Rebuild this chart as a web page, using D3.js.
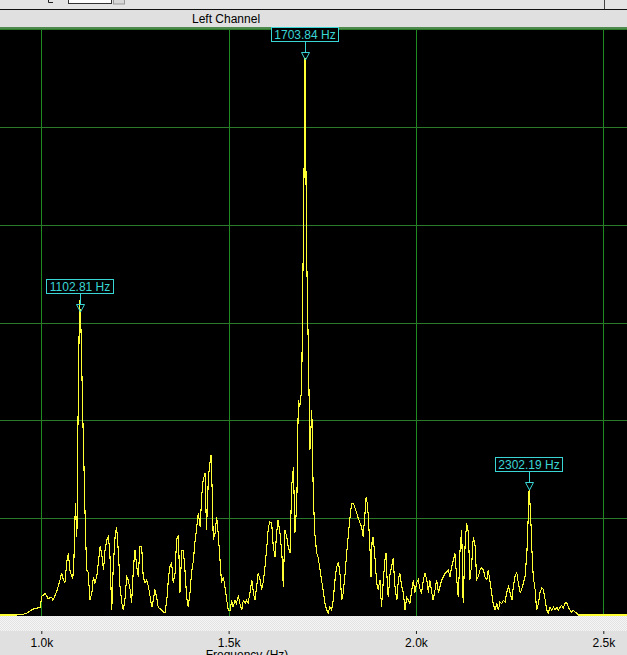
<!DOCTYPE html>
<html>
<head>
<meta charset="utf-8">
<script src="https://cdn.jsdelivr.net/npm/d3@7"></script>
<style>
  html, body { margin: 0; padding: 0; background: #e0e0e0; overflow: hidden; }
  text { font-family: "Liberation Sans", Arial, sans-serif; }
</style>
</head>
<body>
<div id="chart-container"></div>
<script>
// spectrum: frequency (Hz) and level (grid units, 10 per division)
var freqs = [
  890, 935, 954, 962, 970, 978, 989, 997, 1001, 1010, 1018, 1028, 1031, 1041, 1050, 1054,
  1059, 1063, 1068, 1072, 1077, 1084, 1087, 1091, 1095, 1098, 1102, 1106, 1111, 1117, 1121, 1125,
  1130, 1135, 1139, 1143, 1148, 1152, 1157, 1161, 1166, 1170, 1175, 1179, 1183, 1188, 1192, 1197,
  1201, 1206, 1210, 1215, 1219, 1223, 1228, 1232, 1237, 1241, 1246, 1250, 1255, 1259, 1263, 1268,
  1272, 1277, 1281, 1286, 1295, 1299, 1303, 1308, 1312, 1321, 1330, 1335, 1339, 1343, 1348, 1352,
  1357, 1361, 1366, 1370, 1375, 1379, 1383, 1388, 1392, 1397, 1401, 1406, 1410, 1415, 1419, 1424,
  1428, 1432, 1437, 1441, 1446, 1450, 1453, 1456, 1459, 1464, 1468, 1472, 1477, 1481, 1486, 1490,
  1495, 1499, 1504, 1508, 1512, 1517, 1521, 1526, 1530, 1535, 1539, 1544, 1548, 1552, 1557, 1562,
  1566, 1570, 1575, 1579, 1584, 1588, 1592, 1597, 1602, 1606, 1610, 1615, 1619, 1624, 1628, 1632,
  1637, 1642, 1646, 1650, 1655, 1659, 1664, 1668, 1673, 1677, 1682, 1686, 1690, 1695, 1697, 1700,
  1704, 1708, 1713, 1717, 1722, 1726, 1730, 1735, 1739, 1744, 1748, 1753, 1757, 1762, 1766, 1770,
  1775, 1779, 1784, 1788, 1793, 1797, 1802, 1806, 1811, 1815, 1819, 1824, 1828, 1833, 1837, 1842,
  1846, 1851, 1855, 1859, 1864, 1867, 1870, 1873, 1877, 1880, 1883, 1886, 1891, 1895, 1899, 1904,
  1908, 1913, 1917, 1920, 1923, 1926, 1931, 1935, 1939, 1944, 1949, 1953, 1957, 1962, 1966, 1971,
  1975, 1980, 1984, 1989, 1993, 1997, 2002, 2006, 2011, 2015, 2020, 2024, 2029, 2033, 2037, 2042,
  2046, 2051, 2055, 2060, 2064, 2069, 2073, 2078, 2082, 2086, 2091, 2095, 2100, 2104, 2109, 2113,
  2118, 2122, 2126, 2131, 2135, 2140, 2144, 2149, 2153, 2158, 2162, 2166, 2171, 2175, 2180, 2184,
  2189, 2193, 2198, 2202, 2206, 2211, 2216, 2220, 2224, 2229, 2233, 2238, 2242, 2247, 2251, 2256,
  2260, 2264, 2269, 2273, 2278, 2282, 2287, 2291, 2296, 2300, 2302, 2306, 2309, 2313, 2318, 2322,
  2327, 2331, 2336, 2340, 2345, 2349, 2353, 2358, 2362, 2367, 2371, 2376, 2380, 2385, 2389, 2393,
  2398, 2402, 2407, 2411, 2416, 2420, 2425, 2429, 2433, 2565
];
var levels = [
  0.1, 0.1, 0.2, 0.3, 0.5, 0.7, 0.8, 0.9, 2.0, 2.3, 1.8, 1.9, 1.6, 2.5, 3.7, 4.4,
  3.7, 3.4, 5.5, 6.4, 4.5, 3.8, 5.7, 11.5, 8.1, 20.0, 32.3, 29.2, 20.0, 10.1, 4.7, 4.5,
  1.6, 2.4, 4.0, 3.4, 4.0, 5.4, 7.1, 6.4, 4.7, 6.7, 7.8, 8.1, 6.4, 0.6, 5.0, 8.1,
  9.1, 6.4, 3.0, 1.3, 0.6, 1.6, 4.0, 3.7, 2.7, 1.3, 5.0, 6.7, 5.0, 4.0, 7.1, 7.1,
  4.0, 3.4, 3.7, 3.0, 0.9, 1.6, 2.7, 1.9, 0.9, 0.6, 0.3, 1.6, 3.7, 5.0, 5.4, 3.4,
  4.4, 7.8, 8.3, 2.4, 6.7, 6.7, 5.0, 1.9, 0.9, 2.4, 4.4, 5.7, 7.5, 9.1, 10.5, 9.1,
  12.2, 13.9, 14.6, 8.8, 14.2, 15.6, 16.5, 12.9, 7.8, 8.5, 10.1, 8.5, 5.7, 3.4, 4.0, 3.0,
  1.6, 0.6, 0.6, 1.6, 0.9, 1.6, 1.3, 2.1, 1.3, 0.6, 1.6, 1.3, 1.6, 1.3, 2.4, 3.7,
  2.4, 1.6, 3.0, 4.4, 3.7, 2.7, 3.4, 5.0, 7.1, 9.1, 9.6, 9.5, 7.1, 6.0, 8.5, 9.8,
  8.5, 6.4, 3.0, 8.8, 8.1, 7.1, 6.4, 13.2, 15.2, 8.5, 11.5, 22.1, 21.4, 23.1, 31.0, 40.2,
  57.0, 37.7, 26.5, 17.0, 21.1, 12.2, 8.5, 6.4, 6.0, 4.7, 3.7, 2.4, 1.3, 0.6, 0.3, 0.9,
  0.6, 1.6, 3.7, 5.0, 5.5, 4.4, 1.6, 2.4, 4.4, 6.4, 8.1, 10.1, 11.5, 11.5, 11.1, 10.5,
  10.0, 9.5, 9.1, 8.1, 10.5, 12.2, 11.5, 10.1, 7.1, 4.0, 7.8, 8.1, 5.7, 3.4, 2.7, 3.7,
  0.9, 3.7, 5.7, 6.4, 3.7, 1.9, 4.4, 5.0, 5.9, 3.0, 1.6, 3.7, 4.4, 3.0, 2.4, 0.6,
  1.9, 1.6, 1.3, 2.7, 3.7, 2.4, 3.4, 3.7, 2.7, 2.4, 3.7, 4.4, 3.7, 2.4, 3.7, 2.4,
  1.6, 2.7, 3.7, 2.4, 3.0, 3.7, 4.0, 4.4, 4.5, 4.7, 4.0, 5.0, 5.7, 6.4, 3.7, 1.9,
  7.1, 8.8, 1.3, 7.1, 9.5, 8.5, 3.7, 5.4, 8.1, 7.1, 3.7, 4.0, 4.7, 4.9, 4.7, 4.0,
  3.7, 4.7, 3.4, 2.4, 1.3, 0.6, 1.3, 0.6, 1.4, 1.3, 1.6, 1.4, 2.4, 3.0, 2.4, 1.6,
  3.0, 4.0, 4.5, 3.4, 2.4, 2.7, 3.4, 4.0, 6.4, 10.5, 12.9, 10.5, 7.1, 4.0, 2.7, 0.6,
  1.3, 2.4, 2.9, 2.7, 1.6, 0.6, 0.3, 0.9, 0.6, 0.9, 0.6, 0.9, 0.6, 0.9, 1.1, 0.8,
  1.3, 1.4, 0.9, 0.6, 0.4, 0.6, 0.4, 0.3, 0.1, 0.1
];

// peak markers
var markerFreqs = [1102.81, 1703.84, 2302.19];
var markerLevels = [31.1, 56.8, 12.9];
var markerLabels = ['1102.81 Hz', '1703.84 Hz', '2302.19 Hz'];

// axis ticks
var tickFreqs = [1000, 1500, 2000, 2500];
var gridLevels = [10, 20, 30, 40, 50, 60];

var W = 627, H = 655;
var plotTop = 29, plotBottom = 616;

var svg = d3.select('#chart-container')
  .append('svg')
  .attr('width', W)
  .attr('height', H);

// background panels
svg.append('rect').attr('x', 0).attr('y', 0).attr('width', W).attr('height', H).attr('fill', '#e0e0e0');
svg.append('rect').attr('x', 0).attr('y', 0).attr('width', W).attr('height', 9).attr('fill', '#e4e4e4');

// toolbar bits at the very top
svg.append('path').attr('d', 'M48.5,0 V2.5 H53').attr('stroke', '#222').attr('fill', 'none');
svg.append('rect').attr('x', 68.5).attr('y', -6).attr('width', 43).attr('height', 9.5)
  .attr('fill', '#ffffff').attr('stroke', '#333');
svg.append('rect').attr('x', 113.5).attr('y', -6).attr('width', 11).attr('height', 10)
  .attr('fill', '#d8d8d8').attr('stroke', '#999');
svg.append('line').attr('x1', 604.5).attr('x2', 604.5).attr('y1', 0).attr('y2', 9)
  .attr('stroke', '#444');
svg.append('line').attr('x1', 0).attr('x2', W).attr('y1', 9.5).attr('y2', 9.5)
  .attr('stroke', '#111');

// title band
svg.append('text')
  .attr('x', 192)
  .attr('y', 22.5)
  .attr('font-size', '12px')
  .attr('fill', '#000')
  .text('Left Channel');

svg.append('rect').attr('x', 0).attr('y', 27).attr('width', W).attr('height', 2).attr('fill', '#4f8a4f');

// plot area
svg.append('rect')
  .attr('x', 0).attr('y', plotTop)
  .attr('width', W).attr('height', plotBottom - plotTop)
  .attr('fill', '#000');

// dithered strip under the plot
var defs = svg.append('defs');
var pat = defs.append('pattern')
  .attr('id', 'dither').attr('width', 2).attr('height', 2)
  .attr('patternUnits', 'userSpaceOnUse');
pat.append('rect').attr('width', 2).attr('height', 2).attr('fill', '#f6f6f6');
pat.append('rect').attr('width', 1).attr('height', 1).attr('fill', '#e2e2e2');
pat.append('rect').attr('x', 1).attr('y', 1).attr('width', 1).attr('height', 1).attr('fill', '#e2e2e2');
svg.append('rect').attr('x', 0).attr('y', plotBottom).attr('width', W).attr('height', 15)
  .attr('fill', 'url(#dither)');

// X Scale
var xScale = d3.scaleLinear().domain([1000, 2500]).range([41.3, 603.3]);

// Y Scale
var yScale = d3.scaleLinear().domain([0, 60]).range([plotBottom, plotTop]);

// grid
var grid = svg.append('g').attr('shape-rendering', 'crispEdges');
grid.selectAll('.vgrid').data(tickFreqs).enter()
  .append('line')
  .attr('class', 'vgrid')
  .attr('x1', d => Math.round(xScale(d)) + 0.5)
  .attr('x2', d => Math.round(xScale(d)) + 0.5)
  .attr('y1', plotTop)
  .attr('y2', plotBottom)
  .attr('stroke', '#1f8a1f');
grid.selectAll('.hgrid').data(gridLevels).enter()
  .append('line')
  .attr('class', 'hgrid')
  .attr('x1', 0)
  .attr('x2', W)
  .attr('y1', d => Math.round(yScale(d)) + 0.5)
  .attr('y2', d => Math.round(yScale(d)) + 0.5)
  .attr('stroke', '#2a7a2a');

// spectrum trace
var points = freqs.map((f, i) => ({ f: f, v: levels[i] }));
var line = d3.line()
  .x(d => xScale(d.f))
  .y(d => yScale(d.v));

svg.append('path')
  .datum(points)
  .attr('d', line)
  .attr('fill', 'none')
  .attr('stroke', '#ffff33')
  .attr('stroke-width', 1.1)
  .attr('shape-rendering', 'crispEdges');

// markers
var cyan = '#3ad6d6';
var markers = svg.selectAll('.marker')
  .data(markerFreqs.map((f, i) => ({ f: f, v: markerLevels[i], label: markerLabels[i] })))
  .enter()
  .append('g')
  .attr('class', 'marker')
  .attr('transform', d => 'translate(' + Math.round(xScale(d.f)) + ',' + Math.round(yScale(d.v)) + ')');

markers.append('rect')
  .attr('x', -33.5).attr('y', -32.5)
  .attr('width', 67).attr('height', 14)
  .attr('fill', '#000')
  .attr('stroke', cyan);

markers.append('text')
  .attr('x', 0).attr('y', -21)
  .attr('text-anchor', 'middle')
  .attr('font-size', '12px')
  .attr('fill', cyan)
  .text(d => d.label);

markers.append('line')
  .attr('x1', 0.5).attr('x2', 0.5)
  .attr('y1', -18.5).attr('y2', -8)
  .attr('stroke', cyan);

markers.append('path')
  .attr('d', 'M-3.5,-7.5 H4.5 L0.5,0 Z')
  .attr('fill', 'none')
  .attr('stroke', cyan);

// X Axis
var xAxisCall = d3.axisBottom(xScale)
  .tickValues(tickFreqs)
  .tickSize(3)
  .tickPadding(4)
  .tickFormat(d => (d / 1000).toFixed(1) + 'k');

var xAxisGroup = svg.append('g')
  .attr('transform', 'translate(0, 631)')
  .call(xAxisCall);
xAxisGroup.select('.domain').remove();
xAxisGroup.selectAll('line').attr('stroke', '#222');
xAxisGroup.selectAll('text')
  .attr('font-family', '"Liberation Sans", Arial, sans-serif')
  .attr('font-size', '12px')
  .attr('fill', '#000');

// X Label (cut by the window bottom, as in the original)
svg.append('text')
  .attr('x', 247)
  .attr('y', 659)
  .attr('text-anchor', 'middle')
  .attr('font-size', '12px')
  .attr('fill', '#000')
  .text('Frequency (Hz)');
</script>
</body>
</html>
